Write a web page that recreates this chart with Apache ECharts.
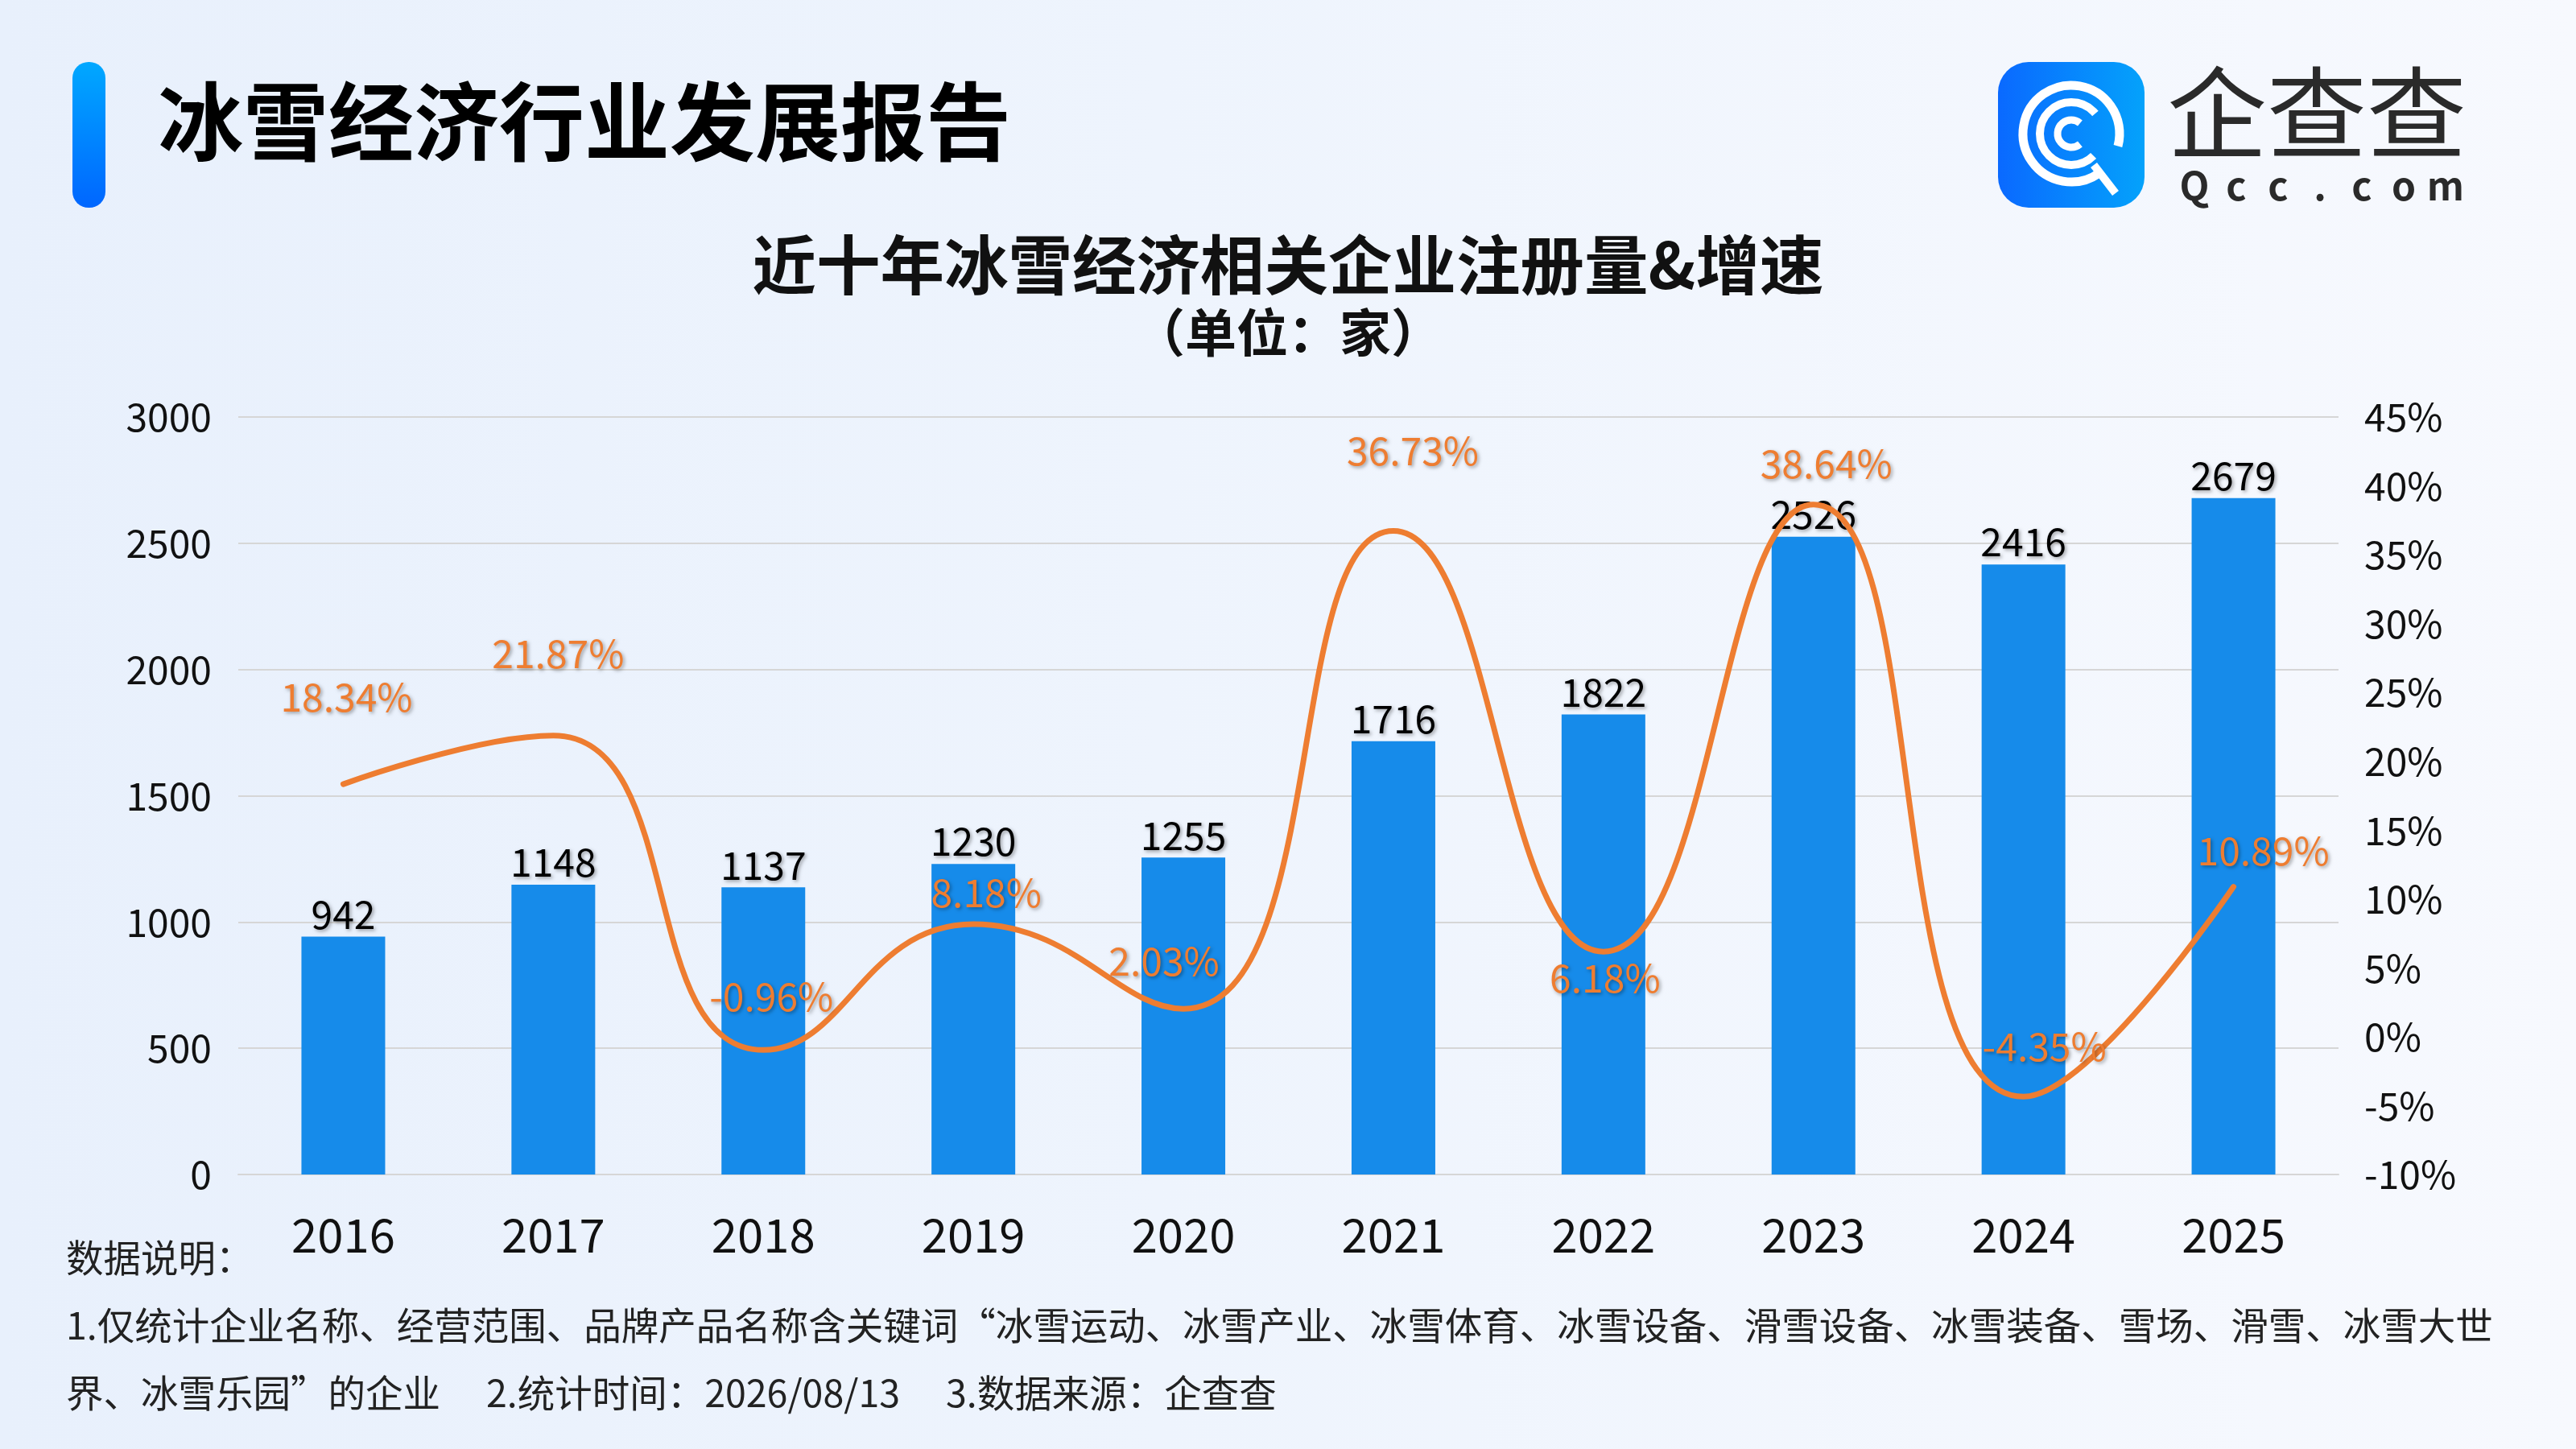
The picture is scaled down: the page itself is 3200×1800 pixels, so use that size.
<!DOCTYPE html>
<html>
<head>
<meta charset="utf-8">
<title>近十年冰雪经济相关企业注册量&增速</title>
<script src="https://cdn.jsdelivr.net/npm/echarts@6/dist/echarts.min.js"></script>
<style>
    html, body {
        margin: 0;
        padding: 0;
    }
    body {
        width: 3200px;
        height: 1800px;
        background: linear-gradient(90deg, #e8f0fc 0%, #eef4fd 45%, #f7f9fe 100%);
    }
    #chart {
        width: 3200px;
        height: 1800px;
    }
</style>
</head>
<body>
<div id="chart"></div>
<script>
    // 年份
    const years = ['2016', '2017', '2018', '2019', '2020', '2021', '2022', '2023', '2024', '2025']
    // 注册量（家）
    const registered = [942, 1148, 1137, 1230, 1255, 1716, 1822, 2526, 2416, 2679]
    // 增速（%）
    const growth = [18.34, 21.87, -0.96, 8.18, 2.03, 36.73, 6.18, 38.64, -4.35, 10.89]

    const FONT = '"Noto Sans CJK SC", "Noto Sans", sans-serif'
    const BLUE = '#168BEA'
    const ORANGE = '#EE7D31'

    // 折线标签相对数据点的偏移 (与原图一致)
    const lineLabelShift = [
        [4, -108], [6, -102], [10, -67], [16, -39], [-24, -59],
        [24, -100], [2, 33], [16, -51], [26, -63], [37, -45]
    ]

    const shadow = {
        textShadowColor: 'rgba(0, 0, 0, 0.35)',
        textShadowBlur: 4,
        textShadowOffsetX: 2,
        textShadowOffsetY: 2
    }

    const lineData = growth.map((v, i) => ({
        value: v,
        label: {offset: lineLabelShift[i]}
    }))

    const deg = (d) => d * Math.PI / 180

    const cs = echarts.init(document.getElementById('chart'))
    const option = {
        backgroundColor: 'transparent',
        animation: false,
        title: [
            {
                text: '近十年冰雪经济相关企业注册量&增速',
                left: 'center',
                top: 284,
                textStyle: {fontFamily: FONT, fontSize: 79.5, fontWeight: 'bold', color: '#111'}
            },
            {
                text: '（单位：家）',
                left: 'center',
                top: 376,
                textStyle: {fontFamily: FONT, fontSize: 64, fontWeight: 'bold', color: '#111'}
            }
        ],
        grid: {
            left: 296,
            right: 295,
            top: 518,
            bottom: 341,
            containLabel: false
        },
        xAxis: {
            type: 'category',
            data: years,
            axisTick: {show: false},
            axisLine: {show: true, lineStyle: {color: '#d6d6d6', width: 2}},
            axisLabel: {
                fontFamily: FONT,
                fontSize: 58,
                color: '#111',
                margin: 46
            }
        },
        yAxis: [
            {
                type: 'value',
                min: 0,
                max: 3000,
                interval: 500,
                axisLine: {show: false},
                axisTick: {show: false},
                axisLabel: {
                    fontFamily: FONT,
                    fontSize: 48,
                    color: '#111',
                    margin: 33,
                    formatter: (v) => String(v)
                },
                splitLine: {lineStyle: {color: '#d6d6d6', width: 2}}
            },
            {
                type: 'value',
                min: -10,
                max: 45,
                interval: 5,
                axisLine: {show: false},
                axisTick: {show: false},
                axisLabel: {fontFamily: FONT, fontSize: 48, color: '#111', margin: 32, formatter: '{value}%'},
                splitLine: {show: false}
            }
        ],
        series: [
            {
                type: 'bar',
                name: '注册量',
                data: registered,
                barWidth: 104,
                itemStyle: {color: BLUE},
                label: Object.assign({
                    show: true,
                    position: 'top',
                    distance: 4,
                    fontFamily: FONT,
                    fontSize: 48,
                    color: '#000'
                }, shadow)
            },
            {
                type: 'line',
                name: '增速',
                yAxisIndex: 1,
                data: lineData,
                smooth: 0.5,
                symbol: 'circle',
                symbolSize: 1,
                itemStyle: {color: 'rgba(0,0,0,0)', borderWidth: 0},
                lineStyle: {color: ORANGE, width: 7, cap: 'round'},
                label: Object.assign({
                    show: true,
                    position: 'inside',
                    fontFamily: FONT,
                    fontSize: 48,
                    color: ORANGE,
                    formatter: (p) => p.value.toFixed(2) + '%'
                }, shadow)
            }
        ],
        graphic: [
            // 左侧标题竖条
            {
                type: 'rect',
                shape: {x: 90, y: 77, width: 41, height: 181, r: 20},
                style: {
                    fill: new echarts.graphic.LinearGradient(0, 0, 0, 1, [
                        {offset: 0, color: '#00A8FF'},
                        {offset: 1, color: '#0066FF'}
                    ])
                }
            },
            {
                type: 'text',
                left: 196,
                top: 98,
                style: {
                    text: '冰雪经济行业发展报告',
                    font: 'bold 106px ' + FONT,
                    fill: '#000'
                }
            },
            // 企查查 logo
            {
                type: 'rect',
                shape: {x: 2482, y: 77, width: 182, height: 181, r: 38},
                style: {
                    fill: new echarts.graphic.LinearGradient(0, 0, 1, 0, [
                        {offset: 0, color: '#0A69FF'},
                        {offset: 1, color: '#04A2FB'}
                    ])
                }
            },
            {
                type: 'arc',
                shape: {cx: 2573, cy: 166, r: 60, startAngle: deg(55), endAngle: deg(375)},
                style: {stroke: '#fff', lineWidth: 11, fill: null}
            },
            {
                type: 'line',
                shape: {x1: 2601, y1: 205, x2: 2628, y2: 240},
                style: {stroke: '#fff', lineWidth: 10}
            },
            {
                type: 'arc',
                shape: {cx: 2573, cy: 166, r: 39, startAngle: deg(45), endAngle: deg(320)},
                style: {stroke: '#fff', lineWidth: 10, fill: null}
            },
            {
                type: 'arc',
                shape: {cx: 2573, cy: 166, r: 17, startAngle: deg(50), endAngle: deg(310)},
                style: {stroke: '#fff', lineWidth: 9, fill: null}
            },
            {
                type: 'text',
                left: 2692,
                top: 78,
                style: {
                    text: '企查查',
                    font: '124px ' + FONT,
                    fill: '#2a2a2a'
                }
            }
        ].concat('Qcc.com'.split('').map((ch, i) => ({
            type: 'text',
            x: 2726 + i * 52,
            y: 231,
            style: {
                text: ch,
                font: 'bold 48px ' + FONT,
                fill: '#2a2a2a',
                align: 'center',
                verticalAlign: 'middle'
            }
        }))).concat([
            // 数据说明
            {
                type: 'text',
                left: 82,
                top: 1520,
                style: {
                    text: '数据说明：\n' +
                        '1.仅统计企业名称、经营范围、品牌产品名称含关键词“冰雪运动、冰雪产业、冰雪体育、冰雪设备、滑雪设备、冰雪装备、雪场、滑雪、冰雪大世\n' +
                        '界、冰雪乐园”的企业\u3000 2.统计时间：2026/08/13\u3000 3.数据来源：企查查',
                    font: '46.5px ' + FONT,
                    fill: '#222',
                    lineHeight: 84
                }
            }
        ])
    }
    cs.setOption(option)
</script>
</body>
</html>
